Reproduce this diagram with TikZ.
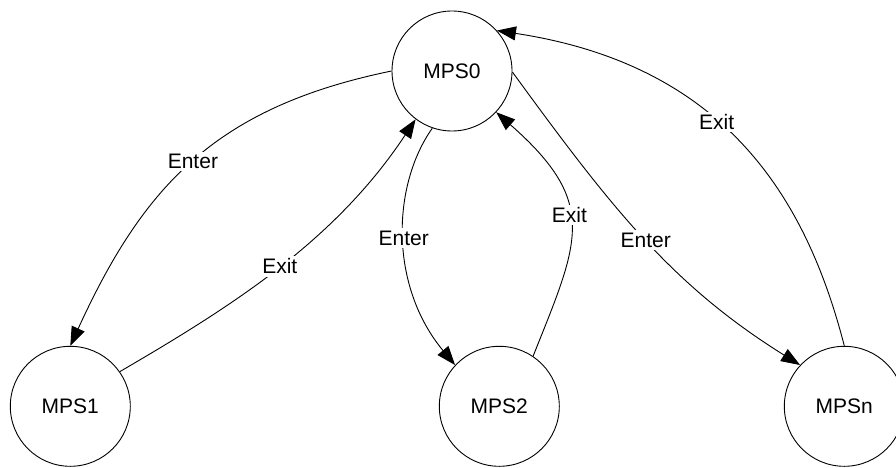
\documentclass[tikz,border=0pt]{standalone}
\usepackage{fontspec}
\setmainfont{Liberation Sans}
\usetikzlibrary{arrows.meta}
\tikzset{
  state/.style={draw, circle, line width=0.9pt, minimum size=120pt, inner sep=0pt, font=\fontsize{21}{25}\selectfont},
  conn/.style={line width=0.9pt, -{Triangle[length=19pt,width=14pt]}},
  lbl/.style={fill=white, inner sep=2.5pt, font=\fontsize{21}{25}\selectfont}
}
\begin{document}
\begin{tikzpicture}[x=1pt,y=-1pt]
\useasboundingbox (0,0) rectangle (896,468);
\node[state] (MPS0) at (452,71) {MPS0};
\node[state] (MPS1) at (70.3,406.3) {MPS1};
\node[state] (MPS2) at (499.3,406.3) {MPS2};
\node[state] (MPSn) at (844.3,406.3) {MPSn};

\draw[conn] (MPS0.180) .. controls +(-175,36) and +(73.6,-161) .. node[lbl,pos=0.5] (l1) {Enter} (MPS1.90);
\draw[conn] (MPS1.35) .. controls +(112.7,-65.7) and +(-80.6,121.7) .. node[lbl,pos=0.5] (l2) {Exit} (MPS0.233);
\draw[conn] (MPS0.251.6) .. controls +(-40.4,57.1) and +(-66.2,-79.7) .. node[lbl,pos=0.5] (l3) {Enter} (MPS2.137);
\draw[conn] (MPS2.56.2) .. controls +(45.8,-115.1) and +(103.5,91.1) .. node[lbl,pos=0.55] (l4) {Exit} (MPS0.317.7);
\draw[conn] (MPS0.-1) .. controls +(99.8,137) and +(-127.8,-79.7) .. node[lbl,pos=0.5] (l5) {Enter} (MPSn.137.6);
\draw[conn] (MPSn.90) .. controls +(-39,-151.5) and +(225.7,34.2) .. node[lbl,pos=0.57] (l6) {Exit} (MPS0.42.3);
\end{tikzpicture}
\end{document}
